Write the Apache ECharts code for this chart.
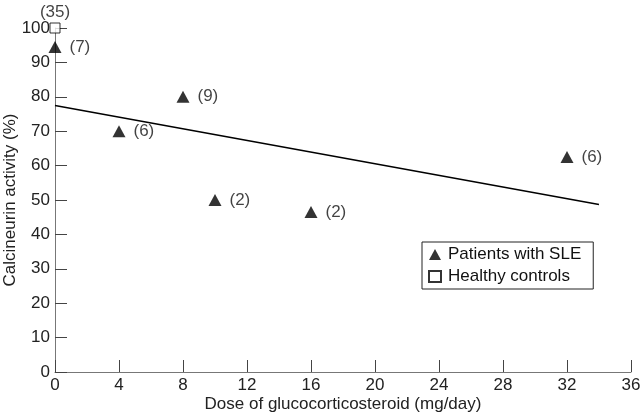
<!DOCTYPE html>
<html><head><meta charset="utf-8">
<script src="https://cdn.jsdelivr.net/npm/echarts@6/dist/echarts.min.js"></script>
<style>html,body{margin:0;padding:0;background:#fff}#c{width:640px;height:417px}</style>
</head><body><div id="c"></div>
<script>
const sleDose = [0, 4, 8, 10, 16, 32];
const sleActivity = [94.5, 70, 80, 50, 46.5, 62.5];
const sleN = ['(7)', '(6)', '(9)', '(2)', '(2)', '(6)'];
const ctrlDose = [0];
const ctrlActivity = [100];
const ctrlN = ['(35)'];
const fitX = [0, 34];
const fitY = [77.5, 48.7];

const font = 'Liberation Sans, Arial, sans-serif';
const chart = echarts.init(document.getElementById('c'));
chart.setOption({
  animation: false,
  textStyle: {fontFamily: font},
  grid: {left: 55, right: 9, top: 28, bottom: 45, containLabel: false, outerBoundsMode: 'none'},
  legend: {
    orient: 'vertical', left: 422, top: 242,
    data: [{name: 'Patients with SLE', icon: 'triangle'}, {name: 'Healthy controls', icon: 'rect'}],
    borderColor: '#222', borderWidth: 1, borderRadius: 0,
    padding: [4, 12, 4, 6], itemGap: 5, itemWidth: 12, itemHeight: 11,
    textStyle: {fontSize: 17, color: '#111', fontFamily: font, padding: [0, 0, 0, 2]}
  },
  xAxis: {
    type: 'value', min: 0, max: 36, interval: 4,
    name: 'Dose of glucocorticosteroid (mg/day)', nameLocation: 'middle', nameGap: 24,
    nameMoveOverlap: false,
    nameTextStyle: {fontSize: 17, color: '#222'},
    axisLine: {lineStyle: {color: '#777', width: 1}},
    axisTick: {inside: true, length: 12, lineStyle: {color: '#444'}},
    axisLabel: {fontSize: 17, color: '#222', margin: 5},
    splitLine: {show: false}
  },
  yAxis: {
    type: 'value', min: 0, max: 100, interval: 10,
    name: 'Calcineurin activity (%)', nameLocation: 'middle', nameGap: 36, nameRotate: 90,
    nameMoveOverlap: false,
    nameTextStyle: {fontSize: 17, color: '#222'},
    axisLine: {show: true, lineStyle: {color: '#777', width: 1}},
    axisTick: {show: true, inside: true, length: 12, lineStyle: {color: '#444'}},
    axisLabel: {fontSize: 17, color: '#222', margin: 5},
    splitLine: {show: false}
  },
  series: [
    {
      name: 'fit', type: 'line', data: fitX.map((x, i) => [x, fitY[i]]),
      showSymbol: false, symbol: 'none', lineStyle: {color: '#000', width: 1.5}, silent: true, z: 1
    },
    {
      name: 'Patients with SLE', type: 'scatter', symbol: 'triangle', symbolSize: [13, 12],
      data: sleDose.map((x, i) => ({value: [x, sleActivity[i]], label: {formatter: sleN[i]}})),
      itemStyle: {color: '#000'}, clip: false,
      label: {show: true, position: 'right', distance: 8, fontSize: 17, color: '#111'}
    },
    {
      name: 'Healthy controls', type: 'scatter', symbol: 'rect', symbolSize: 10,
      data: ctrlDose.map((x, i) => ({value: [x, ctrlActivity[i]], label: {formatter: ctrlN[i]}})),
      itemStyle: {color: '#fff', borderColor: '#000', borderWidth: 1}, clip: false,
      label: {show: true, position: 'top', distance: 2, fontSize: 17, color: '#111'}, z: 3
    }
  ]
});
</script></body></html>
